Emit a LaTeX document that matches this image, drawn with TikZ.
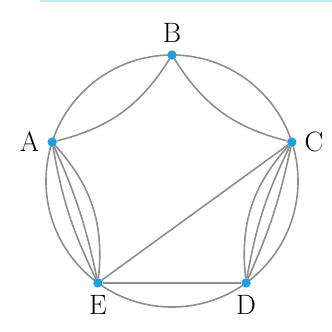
\documentclass[tikz,border=0pt]{standalone}
\usepackage{xcolor}
\usepackage{tikz}
\usetikzlibrary{positioning}
\definecolor{dotblue}{HTML}{1BA1E2}
\definecolor{edgegray}{HTML}{8E8E8E}
\definecolor{rulecyan}{HTML}{BFEAF2}

\begin{document}
\begin{tikzpicture}[
  vtx/.style={circle, fill=dotblue, inner sep=0pt, minimum size=9pt},
  lbl/.style={inner sep=0pt, font=\fontsize{28}{28}\selectfont},
  edge/.style={edgegray, line width=1.6pt}
]
  \useasboundingbox (-172pt,-151pt) rectangle (160pt,181pt);
  \draw[rulecyan, line width=2pt] (-132pt,180pt) -- (160pt,180pt);

  \draw[edge] (0,0) circle (126pt);

  \node[vtx] (B) at (90:126pt) {};
  \node[vtx] (A) at (162:126pt) {};
  \node[vtx] (E) at (234:126pt) {};
  \node[vtx] (D) at (306:126pt) {};
  \node[vtx] (C) at (18:126pt) {};

  \node[lbl, above=8pt of B] (lB) {B};
  \node[lbl, left=8pt of A] (lA) {A};
  \node[lbl, right=8pt of C] (lC) {C};
  \node[lbl, below=8pt of E] (lE) {E};
  \node[lbl, below=8pt of D] (lD) {D};

  \draw[edge] (A) to[bend right=22] (B);
  \draw[edge] (B) to[bend right=22] (C);
  \draw[edge] (C) to[bend right=24] (D);
  \draw[edge] (C) to[bend right=8] (D);
  \draw[edge] (C) to[bend left=6] (D);
  \draw[edge] (D) -- (E);
  \draw[edge] (E) to[bend right=24] (A);
  \draw[edge] (E) to[bend right=6] (A);
  \draw[edge] (E) to[bend left=8] (A);
  \draw[edge] (E) -- (C);

  % dots on top of the edges
  \foreach \v in {A,B,C,D,E}
    \node[vtx] at (\v) {};
\end{tikzpicture}
\end{document}
